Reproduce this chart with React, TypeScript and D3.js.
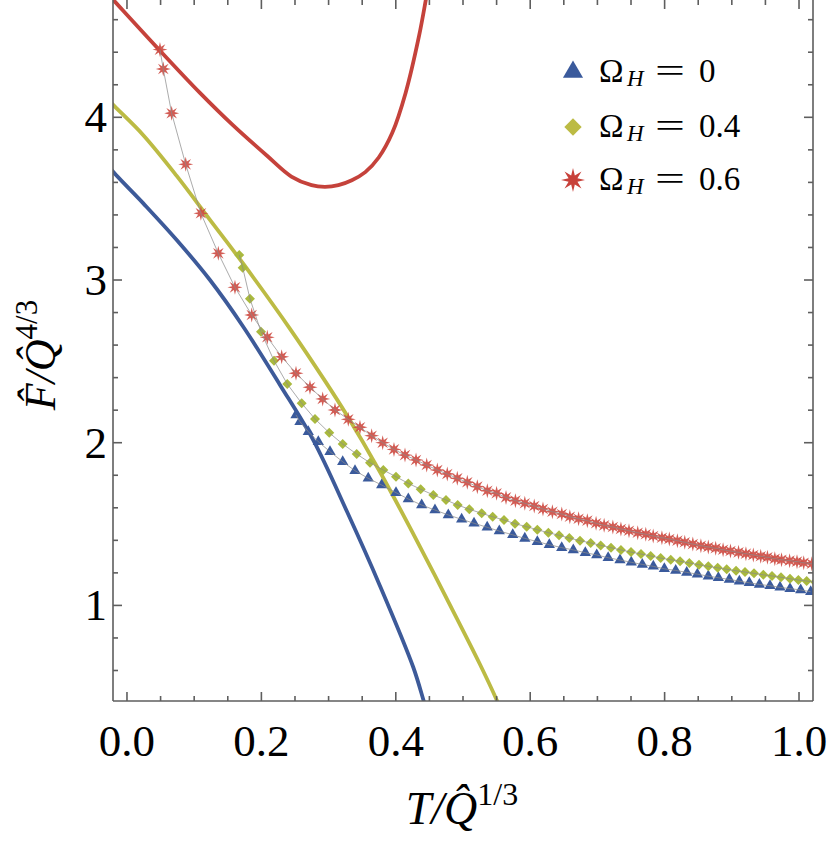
import React, { useEffect, useRef } from "react";
import * as d3 from "d3";

// solid branches (T, F)
const curveOmega0 = [
  [-0.03, 3.72], [-0.0228, 3.676], [0.0243, 3.471], [0.074, 3.246], [0.1235, 3.0],
  [0.173, 2.713], [0.2277, 2.355], [0.277, 2.017], [0.327, 1.58], [0.3765, 1.12],
  [0.426, 0.62], [0.441, 0.42], [0.446, 0.35],
];
const curveOmega04 = [
  [-0.03, 4.12], [-0.0228, 4.086], [0.0243, 3.89], [0.074, 3.64], [0.1235, 3.37],
  [0.173, 3.1], [0.2426, 2.7], [0.2946, 2.38], [0.327, 2.17], [0.3765, 1.82],
  [0.426, 1.44], [0.476, 1.04], [0.525, 0.64], [0.55, 0.42], [0.556, 0.36],
];
const curveOmega06 = [
  [-0.03, 4.765], [-0.02, 4.72], [0.049, 4.41], [0.1086, 4.15], [0.158, 3.95],
  [0.208, 3.765], [0.2446, 3.636], [0.2746, 3.583], [0.2946, 3.573], [0.3146, 3.583],
  [0.3346, 3.613], [0.3546, 3.663], [0.3746, 3.753], [0.3946, 3.903], [0.4146, 4.15],
  [0.4346, 4.5], [0.4446, 4.72], [0.45, 4.85],
];

// marker series (T, F)
const pointsOmega0 = [
  [0.2515, 2.171], [0.2574, 2.129], [0.2698, 2.068], [0.2847, 2.006], [0.3021, 1.945],
  [0.321, 1.883], [0.3393, 1.828], [0.359, 1.781], [0.379, 1.74], [0.4003, 1.693],
  [0.4186, 1.654], [0.4385, 1.617], [0.4583, 1.586], [0.4781, 1.556], [0.498, 1.529],
  [0.5164, 1.505], [0.536, 1.48], [0.554, 1.457], [0.574, 1.434], [0.592, 1.412],
  [0.6106, 1.392], [0.6284, 1.373], [0.6469, 1.355], [0.6641, 1.341], [0.682, 1.324],
  [0.699, 1.31], [0.716, 1.293], [0.7336, 1.279], [0.7504, 1.265], [0.7668, 1.252],
  [0.7832, 1.24], [0.7996, 1.225], [0.8165, 1.215], [0.8329, 1.203], [0.8487, 1.192],
  [0.865, 1.18], [0.88, 1.17], [0.8963, 1.16], [0.9112, 1.149], [0.926, 1.139],
  [0.941, 1.129], [0.9568, 1.121], [0.9717, 1.111], [0.9866, 1.103], [1.0025, 1.095],
  [1.0174, 1.084],
];
const pointsOmega04 = [
  [0.1671, 3.154], [0.1722, 3.076], [0.183, 2.885], [0.1994, 2.682], [0.2188, 2.504],
  [0.2385, 2.361], [0.26, 2.242], [0.2798, 2.146], [0.301, 2.061], [0.321, 1.992],
  [0.3418, 1.93], [0.3616, 1.877], [0.3814, 1.832], [0.4003, 1.791], [0.4186, 1.75],
  [0.437, 1.714], [0.4558, 1.679], [0.4747, 1.648], [0.4921, 1.617], [0.5094, 1.591],
  [0.5278, 1.566], [0.5442, 1.545], [0.561, 1.525], [0.5774, 1.502], [0.5948, 1.484],
  [0.6106, 1.465], [0.627, 1.447], [0.6429, 1.431], [0.6582, 1.414], [0.6741, 1.398],
  [0.69, 1.384], [0.7049, 1.369], [0.7202, 1.355], [0.735, 1.341], [0.75, 1.328],
  [0.7649, 1.316], [0.7793, 1.304], [0.7942, 1.291], [0.8091, 1.281], [0.823, 1.271],
  [0.8368, 1.261], [0.8512, 1.25], [0.865, 1.24], [0.879, 1.231], [0.8924, 1.222],
  [0.9063, 1.213], [0.9196, 1.205], [0.933, 1.197], [0.9469, 1.188], [0.9598, 1.181],
  [0.9732, 1.173], [0.9866, 1.164], [0.999, 1.156], [1.0114, 1.15], [1.024, 1.144],
];
const pointsOmega06 = [
  [0.0491, 4.416], [0.054, 4.297], [0.0665, 4.025], [0.0874, 3.711], [0.11, 3.41],
  [0.1359, 3.164], [0.1607, 2.955], [0.1856, 2.785], [0.2088, 2.648], [0.2302, 2.528],
  [0.2515, 2.427], [0.2723, 2.341], [0.2912, 2.269], [0.3095, 2.201], [0.3293, 2.144],
  [0.3467, 2.095], [0.3641, 2.043], [0.3805, 2.0], [0.3973, 1.959], [0.4137, 1.924],
  [0.4301, 1.894], [0.446, 1.863], [0.4618, 1.832], [0.4766, 1.808], [0.4915, 1.781],
  [0.5064, 1.757], [0.5213, 1.73], [0.5362, 1.705], [0.55, 1.689], [0.564, 1.664],
  [0.578, 1.644], [0.592, 1.628], [0.606, 1.611], [0.619, 1.593], [0.633, 1.576],
  [0.647, 1.562], [0.659, 1.545], [0.672, 1.533], [0.685, 1.521], [0.698, 1.505],
  [0.71, 1.492], [0.723, 1.482], [0.735, 1.47], [0.747, 1.459], [0.76, 1.447],
  [0.772, 1.437], [0.783, 1.427], [0.796, 1.416], [0.807, 1.408], [0.819, 1.398],
  [0.83, 1.388], [0.842, 1.377], [0.854, 1.367], [0.865, 1.359], [0.876, 1.351],
  [0.887, 1.342], [0.898, 1.334], [0.91, 1.326], [0.921, 1.318], [0.932, 1.31],
  [0.943, 1.302], [0.953, 1.296], [0.964, 1.287], [0.974, 1.281], [0.986, 1.275],
  [0.997, 1.269], [1.007, 1.262], [1.019, 1.256],
];

const xTicks = [0, 0.2, 0.4, 0.6, 0.8, 1.0];
const yTicks = [1, 2, 3, 4];
const legendLabels = ["0", "0.4", "0.6"];

const BLUE = "#3d5a99";
const OLIVE = "#bcbb44";
const RED = "#c5423b";

const FONT = "'Liberation Serif', 'DejaVu Serif', serif";

// n-pointed star path centred at 0,0
const starPath = (outer, inner, n = 8) => {
  const pts = [];
  for (let i = 0; i < 2 * n; i++) {
    const r = i % 2 === 0 ? outer : inner;
    const a = (Math.PI * i) / n - Math.PI / 2;
    pts.push([r * Math.cos(a), r * Math.sin(a)]);
  }
  return "M" + pts.map((p) => p.join(",")).join("L") + "Z";
};

const App = () => {
  const ref = useRef(null);

  useEffect(() => {
    draw();
  }, []);

  const draw = () => {
    const width = 830;
    const height = 847;
    const left = 113;
    const right = 813;
    const top = 0;
    const bottom = 701;

    const svg = d3.select(ref.current);
    svg.selectAll("*").remove();
    svg.attr("width", width).attr("height", height);

    const x = d3.scaleLinear().domain([-0.0208, 1.0208]).range([left, right]);
    const y = d3.scaleLinear().domain([0.4125, 4.721]).range([bottom, top]);

    svg
      .append("defs")
      .append("clipPath")
      .attr("id", "plot-clip")
      .append("rect")
      .attr("x", left)
      .attr("y", top)
      .attr("width", right - left)
      .attr("height", bottom - top);

    const plot = svg.append("g").attr("clip-path", "url(#plot-clip)");

    const smooth = d3
      .line()
      .x((d) => x(d[0]))
      .y((d) => y(d[1]))
      .curve(d3.curveCatmullRom.alpha(0.5));

    const joined = d3
      .line()
      .x((d) => x(d[0]))
      .y((d) => y(d[1]));

    // solid branches
    [
      [curveOmega0, BLUE],
      [curveOmega04, OLIVE],
      [curveOmega06, RED],
    ].forEach(([data, color]) => {
      plot
        .append("path")
        .attr("d", smooth(data))
        .attr("fill", "none")
        .attr("stroke", color)
        .attr("stroke-width", 3.8);
    });

    const triangle = d3.symbol().type(d3.symbolTriangle).size(55)();
    const diamond = d3.symbol().type(d3.symbolSquare).size(50)();
    const star = starPath(7.5, 3);

    // markers
    plot
      .selectAll("path.tri")
      .data(pointsOmega0)
      .enter()
      .append("path")
      .attr("class", "tri")
      .attr("d", triangle)
      .attr("fill", "#3a5a9c")
      .attr("transform", (d) => `translate(${x(d[0])},${y(d[1])})`);

    plot
      .selectAll("path.dia")
      .data(pointsOmega04)
      .enter()
      .append("path")
      .attr("class", "dia")
      .attr("d", diamond)
      .attr("fill", "#a9b93e")
      .attr("transform", (d) => `translate(${x(d[0])},${y(d[1])}) rotate(45)`);

    plot
      .selectAll("path.star")
      .data(pointsOmega06)
      .enter()
      .append("path")
      .attr("class", "star")
      .attr("d", star)
      .attr("fill", "#cd4a41")
      .attr("fill-opacity", 0.9)
      .attr("transform", (d) => `translate(${x(d[0])},${y(d[1])})`);

    // thin joining lines through the markers
    [pointsOmega0, pointsOmega04, pointsOmega06].forEach((data) => {
      plot
        .append("path")
        .attr("d", joined(data))
        .attr("fill", "none")
        .attr("stroke", "#8a8a8a")
        .attr("stroke-opacity", 0.8)
        .attr("stroke-width", 0.9);
    });

    // frame and ticks
    const frame = svg.append("g").attr("stroke", "#5e5e5e").attr("stroke-width", 1.6);
    frame.append("line").attr("x1", left).attr("x2", left).attr("y1", top).attr("y2", bottom);
    frame.append("line").attr("x1", right).attr("x2", right).attr("y1", top).attr("y2", bottom);
    frame.append("line").attr("x1", left).attr("x2", right).attr("y1", bottom).attr("y2", bottom);

    const xMinor = d3.range(0, 1.0001, 0.05);
    xMinor.forEach((v) => {
      const major = xTicks.some((t) => Math.abs(t - v) < 1e-6);
      const len = major ? 9 : 5;
      const px = x(v);
      frame.append("line").attr("x1", px).attr("x2", px).attr("y1", bottom).attr("y2", bottom - len);
      frame.append("line").attr("x1", px).attr("x2", px).attr("y1", top).attr("y2", top + len);
    });

    const yMinor = d3.range(0.6, 4.7, 0.2);
    yMinor.forEach((v) => {
      const major = yTicks.some((t) => Math.abs(t - v) < 1e-6);
      const len = major ? 9 : 5;
      const py = y(v);
      frame.append("line").attr("x1", left).attr("x2", left + len).attr("y1", py).attr("y2", py);
      frame.append("line").attr("x1", right).attr("x2", right - len).attr("y1", py).attr("y2", py);
    });

    // tick labels
    svg
      .selectAll("text.xt")
      .data(xTicks)
      .enter()
      .append("text")
      .attr("class", "xt")
      .attr("x", (d) => x(d))
      .attr("y", 756)
      .attr("text-anchor", "middle")
      .style("font-family", FONT)
      .style("font-size", "45px")
      .text((d) => d.toFixed(1));

    svg
      .selectAll("text.yt")
      .data(yTicks)
      .enter()
      .append("text")
      .attr("class", "yt")
      .attr("x", 107)
      .attr("y", (d) => y(d) + 15)
      .attr("text-anchor", "end")
      .style("font-family", FONT)
      .style("font-size", "45px")
      .text((d) => d);

    // axis titles
    const xt = svg
      .append("text")
      .attr("x", 462)
      .attr("y", 824)
      .attr("text-anchor", "middle")
      .style("font-family", FONT)
      .style("font-size", "46px");
    xt.append("tspan").style("font-style", "italic").text("T/Q\u0302");
    xt.append("tspan").attr("dy", -19).style("font-size", "32px").text("1/3");

    const yt = svg
      .append("text")
      .attr("transform", "translate(55,355) rotate(-90)")
      .attr("text-anchor", "middle")
      .style("font-family", FONT)
      .style("font-size", "44px");
    yt.append("tspan").style("font-style", "italic").text("F\u0302/Q\u0302");
    yt.append("tspan").attr("dy", -18).style("font-size", "31px").text("4/3");

    // legend
    const legendY = [72, 127, 180];
    const legendShapes = [
      { d: d3.symbol().type(d3.symbolTriangle).size(175)(), fill: "#3a5a9c", rot: 0 },
      { d: d3.symbol().type(d3.symbolSquare).size(150)(), fill: OLIVE, rot: 45 },
      { d: starPath(12, 4.8), fill: "#c8413a", rot: 0 },
    ];
    legendShapes.forEach((s, i) => {
      const cy = legendY[i];
      svg
        .append("path")
        .attr("d", s.d)
        .attr("fill", s.fill)
        .attr("transform", `translate(573,${cy}) rotate(${s.rot})`);
      const g = svg.append("g").style("font-family", FONT).style("font-size", "33px");
      g.append("text").attr("x", 599).attr("y", cy + 10).text("\u03A9");
      g.append("text")
        .attr("x", 627)
        .attr("y", cy + 14)
        .style("font-style", "italic")
        .style("font-size", "23px")
        .text("H");
      g.append("text")
        .attr("x", 655)
        .attr("y", cy + 10)
        .attr("textLength", 30)
        .attr("lengthAdjust", "spacingAndGlyphs")
        .text("=");
      g.append("text").attr("x", 699).attr("y", cy + 10).text(legendLabels[i]);
    });
  };

  return (
    <svg ref={ref} style={{ position: "absolute", left: 0, top: 0 }}></svg>
  );
};

export default App;
